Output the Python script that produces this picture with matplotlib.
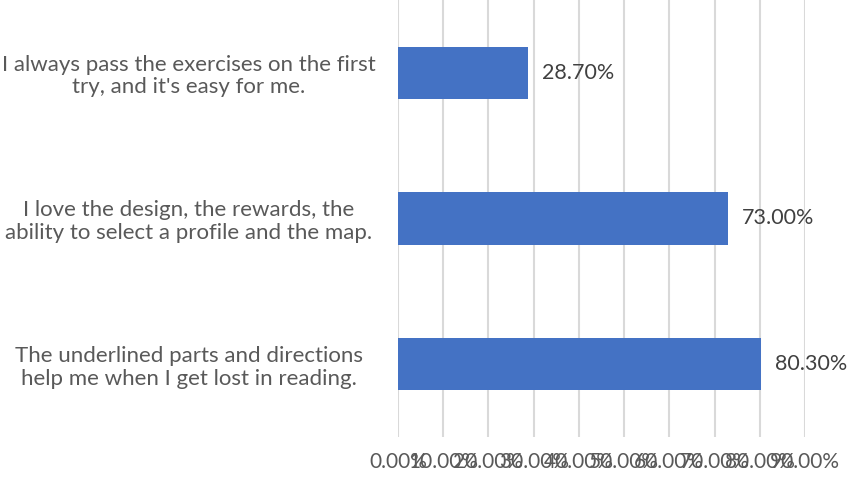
import matplotlib
matplotlib.use("Agg")
import matplotlib.pyplot as plt
from matplotlib.ticker import FuncFormatter

categories = [
    "I always pass the exercises on the first\ntry, and it's easy for me.",
    "I love the design, the rewards, the\nability to select a profile and the map.",
    "The underlined parts and directions\nhelp me when I get lost in reading.",
]
values = [0.287, 0.730, 0.803]
ticks = [0.0, 0.1, 0.2, 0.3, 0.4, 0.5, 0.6, 0.7, 0.8, 0.9]

plt.rcParams['font.family'] = ['Lato', 'DejaVu Sans']

W, H = 854, 483
fig = plt.figure(figsize=(W / 100, H / 100), dpi=100)
ax = fig.add_axes([398 / W, (H - 437) / H, (805 - 398) / W, 437 / H])

ypos = list(range(len(categories)))
bars = ax.barh(ypos, values, height=0.36, color='#4472C4', zorder=3)
ax.set_ylim(len(categories) - 0.5, -0.5)
ax.set_xlim(0, 0.9)
ax.set_xticks(ticks)
ax.xaxis.set_major_formatter(FuncFormatter(lambda v, p: f"{v*100:.2f}%"))
ax.grid(axis='x', color='#D9D9D9', linewidth=1.5, zorder=0)
for s in ax.spines.values():
    s.set_visible(False)
ax.tick_params(axis='both', length=0)
ax.tick_params(axis='x', labelsize=15, labelcolor='#595959', pad=11)
ax.set_yticks(ypos)
ax.set_yticklabels(categories, fontsize=16, color='#595959', ha='center',
                   multialignment='center', linespacing=1.15)
ax.tick_params(axis='y', pad=(398 - 189) * 0.72)

ax.bar_label(bars, labels=[f"{v*100:.2f}%" for v in values], padding=10,
             fontsize=15.5, color='#404040')

fig.savefig("out.png", dpi=100)
